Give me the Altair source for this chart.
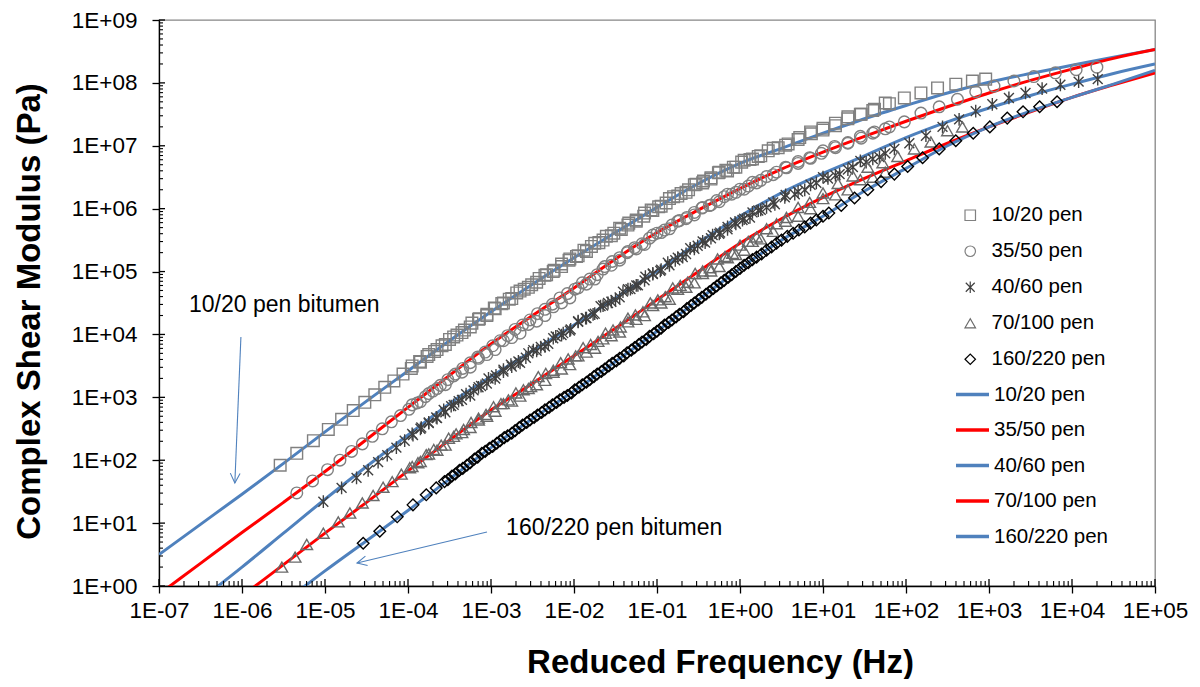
import altair as alt
import pandas as pd

FONT = "Liberation Sans"
SERIES = ["10/20 pen", "35/50 pen", "40/60 pen", "70/100 pen", "160/220 pen"]

# ---- fitted master curves: log10 reduced frequency (Hz) vs log10 |G*| (Pa)
FIT_LOGF = [-7.0, -6.5, -6.0, -5.5, -5.0, -4.5, -4.0, -3.5, -3.0, -2.5, -2.0, -1.5, -1.0,
            -0.5, 0.0, 0.5, 1.0, 1.5, 2.0, 2.5, 3.0, 3.5, 4.0, 4.5, 5.0]
FIT_1020 = [0.50, 0.98, 1.46, 1.95, 2.45, 2.94, 3.42, 3.90, 4.36, 4.80, 5.22, 5.62, 6.02,
            6.40, 6.72, 6.96, 7.20, 7.43, 7.64, 7.84, 8.01, 8.15, 8.28, 8.41, 8.53]
FIT_3550 = [-0.13, 0.36, 0.85, 1.33, 1.82, 2.33, 2.84, 3.35, 3.85, 4.30, 4.74, 5.20, 5.62,
            5.98, 6.32, 6.63, 6.90, 7.15, 7.39, 7.62, 7.84, 8.04, 8.22, 8.39, 8.53]
FIT_4060 = [-0.74, -0.22, 0.30, 0.84, 1.38, 1.90, 2.40, 2.90, 3.33, 3.74, 4.15, 4.58, 5.01,
            5.46, 5.88, 6.25, 6.56, 6.84, 7.13, 7.38, 7.60, 7.80, 7.98, 8.15, 8.30]
FIT_70100 = [-1.17, -0.66, -0.16, 0.34, 0.84, 1.33, 1.83, 2.32, 2.80, 3.22, 3.66, 4.10, 4.55,
             5.00, 5.45, 5.84, 6.18, 6.48, 6.76, 7.04, 7.30, 7.54, 7.77, 7.97, 8.16]
FIT_160220 = [-1.76, -1.26, -0.76, -0.26, 0.24, 0.72, 1.20, 1.70, 2.20, 2.66, 3.10, 3.57, 4.05,
              4.55, 5.05, 5.50, 5.88, 6.28, 6.64, 7.00, 7.30, 7.55, 7.77, 7.98, 8.20]
FIT_COLORS = ["#4F81BD", "#FF0000", "#4F81BD", "#FF0000", "#4F81BD"]

# ---- measured data (log10 f, log10 G*)
SQ_LOGF = [-5.54, -5.34, -5.14, -4.96, -4.80, -4.66, -4.52, -4.40, -4.28, -4.17, -4.06, -3.96,
           -3.86, -3.77, -3.68, -3.59, -3.50, -3.41, -3.32, -3.23, -3.14, -3.05, -2.96, -2.87,
           -2.78, -2.69, -2.60, -2.51, -2.42, -2.33, -2.24, -2.15, -2.06, -1.97, -1.88, -1.79,
           -1.70, -1.61, -1.52, -1.43, -1.34, -1.25, -1.16, -1.07, -0.98, -0.89, -0.80, -0.71,
           -0.62, -0.53, -0.44, -0.35, -0.26, -0.17, -0.08, 0.02, 0.12, 0.22, 0.34, 0.46, 0.58,
           0.72, 0.86, 1.00, 1.15, 1.30, 1.46, 1.62, 1.80, 1.98, 2.18, 2.38, 2.60, 2.80, 2.96,
           -3.95, -3.85, -3.75, -3.65, -3.55, -3.45, -3.35, -3.25, -3.15, -3.05, -2.95, -2.85,
           -2.75, -2.65, -2.55, -2.45, -2.35, -2.25, -2.15, -2.05, -1.95, -1.85, -1.75, -1.65,
           -1.55, -1.45, -1.35, -1.25, -1.15, -1.05, -0.95, -0.85, -0.75, -0.65, -0.55, -0.45,
           -0.35, -0.25, -0.15, -0.05, 0.05, 0.15, 0.25, 0.40, 0.55, 0.70, 0.85, 1.00, 1.15,
           1.30, 1.45, 1.60, 1.75]
SQ_LOGG = [1.92, 2.11, 2.31, 2.49, 2.65, 2.79, 2.92, 3.04, 3.16, 3.26, 3.37, 3.46,
           3.57, 3.65, 3.73, 3.82, 3.92, 3.99, 4.07, 4.18, 4.25, 4.32, 4.42, 4.49,
           4.56, 4.66, 4.72, 4.79, 4.89, 4.95, 5.02, 5.12, 5.18, 5.24, 5.34, 5.40,
           5.46, 5.56, 5.61, 5.67, 5.77, 5.82, 5.88, 5.98, 6.03, 6.09, 6.19, 6.24,
           6.30, 6.39, 6.44, 6.49, 6.57, 6.61, 6.66, 6.74, 6.78, 6.83, 6.92, 6.97, 7.03,
           7.13, 7.19, 7.28, 7.36, 7.43, 7.50, 7.58, 7.67, 7.76, 7.84, 7.92, 7.98, 8.03, 8.06,
           3.50, 3.56, 3.68, 3.76, 3.84, 3.96, 4.03, 4.12, 4.24, 4.30, 4.41, 4.50,
           4.57, 4.69, 4.75, 4.83, 4.94, 5.00, 5.08, 5.20, 5.25, 5.32, 5.45, 5.50,
           5.57, 5.69, 5.74, 5.80, 5.93, 5.97, 6.04, 6.16, 6.20, 6.26, 6.38, 6.41,
           6.47, 6.58, 6.60, 6.66, 6.77, 6.79, 6.84, 6.96, 7.01, 7.10, 7.22, 7.25, 7.32,
           7.46, 7.50, 7.56, 7.68]

CI_LOGF = [-5.34, -5.15, -4.97, -4.82, -4.68, -4.55, -4.43, -4.31, -4.20, -4.09, -3.99, -3.89,
           -3.79, -3.70, -3.61, -3.52, -3.43, -3.34, -3.25, -3.16, -3.07, -2.98, -2.89, -2.80,
           -2.71, -2.62, -2.53, -2.44, -2.35, -2.26, -2.17, -2.08, -1.99, -1.90, -1.81, -1.72,
           -1.63, -1.54, -1.45, -1.36, -1.27, -1.18, -1.09, -1.00, -0.91, -0.82, -0.73, -0.64,
           -0.55, -0.46, -0.37, -0.28, -0.19, -0.10, 0.00, 0.10, 0.20, 0.32, 0.44, 0.56, 0.70,
           0.84, 0.98, 1.14, 1.30, 1.46, 1.62, 1.80, 1.98, 2.18, 2.40, 2.62, 2.84, 3.06, 3.30,
           3.54, 3.80, 4.05, 4.30,
           -3.95, -3.85, -3.75, -3.65, -3.55, -3.45, -3.35, -3.25, -3.15, -3.05, -2.95, -2.85,
           -2.75, -2.65, -2.55, -2.45, -2.35, -2.25, -2.15, -2.05, -1.95, -1.85, -1.75, -1.65,
           -1.55, -1.45, -1.35, -1.25, -1.15, -1.05, -0.95, -0.85, -0.75, -0.65, -0.55, -0.45,
           -0.35, -0.25, -0.15, -0.05, 0.05, 0.15, 0.25, 0.40, 0.55, 0.70, 0.85, 1.00, 1.15,
           1.30, 1.45, 1.60, 1.75]
CI_LOGG = [1.48, 1.67, 1.85, 2.00, 2.14, 2.26, 2.38, 2.50, 2.61, 2.71, 2.81, 2.91,
           3.01, 3.10, 3.19, 3.28, 3.37, 3.46, 3.55, 3.64, 3.72, 3.82, 3.90, 3.98,
           4.08, 4.15, 4.23, 4.33, 4.40, 4.48, 4.58, 4.65, 4.72, 4.82, 4.88, 4.95,
           5.08, 5.16, 5.22, 5.30, 5.38, 5.44, 5.53, 5.61, 5.66, 5.74, 5.81, 5.86,
           5.94, 6.01, 6.05, 6.13, 6.19, 6.23, 6.31, 6.36, 6.41, 6.51, 6.58, 6.65, 6.75,
           6.81, 6.88, 6.99, 7.05, 7.12, 7.22, 7.30, 7.38, 7.52, 7.62, 7.74, 7.86, 7.95, 8.03,
           8.10, 8.16, 8.21, 8.25,
           2.88, 2.93, 3.06, 3.14, 3.20, 3.34, 3.40, 3.48, 3.62, 3.68, 3.76, 3.90,
           3.95, 4.02, 4.16, 4.21, 4.30, 4.44, 4.50, 4.58, 4.74, 4.80, 4.88, 5.04,
           5.10, 5.18, 5.32, 5.36, 5.43, 5.58, 5.62, 5.68, 5.80, 5.84, 5.90, 6.02,
           6.06, 6.11, 6.23, 6.26, 6.31, 6.42, 6.45, 6.54, 6.66, 6.72, 6.80, 6.92, 6.97,
           7.04, 7.15, 7.20, 7.27]

AS_LOGF = [-5.02, -4.80, -4.62, -4.48, -4.36, -4.25, -4.14, -4.04, -3.94, -3.84, -3.75, -3.66,
           -3.57, -3.48, -3.39, -3.30, -3.21, -3.12, -3.03, -2.94, -2.85, -2.76, -2.67, -2.58,
           -2.49, -2.40, -2.31, -2.22, -2.13, -2.04, -1.95, -1.86, -1.77, -1.68, -1.59, -1.50,
           -1.41, -1.32, -1.23, -1.14, -1.05, -0.96, -0.87, -0.78, -0.69, -0.60, -0.51, -0.42,
           -0.33, -0.24, -0.15, -0.06, 0.03, 0.12, 0.22, 0.32, 0.42, 0.54, 0.66, 0.78, 0.92,
           1.06, 1.20, 1.36, 1.52, 1.68, 1.86, 2.04, 2.24, 2.44, 2.64, 2.84, 3.04, 3.24, 3.44,
           3.64, 3.86, 4.08, 4.31,
           -3.95, -3.85, -3.75, -3.65, -3.55, -3.45, -3.35, -3.25, -3.15, -3.05, -2.95, -2.85,
           -2.75, -2.65, -2.55, -2.45, -2.35, -2.25, -2.15, -2.05, -1.95, -1.85, -1.75, -1.65,
           -1.55, -1.45, -1.35, -1.25, -1.15, -1.05, -0.95, -0.85, -0.75, -0.65, -0.55, -0.45,
           -0.35, -0.25, -0.15, -0.05, 0.05, 0.15, 0.25, 0.40, 0.55, 0.70, 0.85, 1.00, 1.15,
           1.30, 1.45, 1.60, 1.75]
AS_LOGG = [1.34, 1.56, 1.72, 1.84, 1.97, 2.08, 2.20, 2.31, 2.40, 2.52, 2.59, 2.68,
           2.80, 2.86, 2.94, 3.05, 3.11, 3.18, 3.30, 3.35, 3.41, 3.52, 3.57, 3.63,
           3.75, 3.80, 3.85, 3.97, 4.02, 4.08, 4.21, 4.26, 4.32, 4.45, 4.50, 4.55,
           4.68, 4.72, 4.78, 4.92, 4.96, 5.01, 5.14, 5.18, 5.23, 5.37, 5.41, 5.46,
           5.58, 5.62, 5.67, 5.78, 5.82, 5.86, 5.97, 6.02, 6.07, 6.18, 6.23, 6.30, 6.41,
           6.48, 6.55, 6.66, 6.74, 6.82, 6.95, 7.04, 7.16, 7.30, 7.42, 7.55, 7.66, 7.76, 7.84,
           7.91, 7.97, 8.02, 8.06,
           2.42, 2.50, 2.60, 2.67, 2.76, 2.88, 2.96, 3.03, 3.16, 3.22, 3.30, 3.44,
           3.49, 3.55, 3.70, 3.74, 3.81, 3.94, 3.99, 4.06, 4.20, 4.26, 4.33, 4.46,
           4.52, 4.59, 4.72, 4.78, 4.86, 4.97, 5.03, 5.10, 5.22, 5.28, 5.36, 5.48,
           5.53, 5.60, 5.71, 5.76, 5.84, 5.94, 5.98, 6.10, 6.22, 6.27, 6.38, 6.50, 6.53,
           6.62, 6.76, 6.79, 6.88]

TR_LOGF = [-5.52, -5.36, -5.22, -5.02, -4.84, -4.70, -4.55, -4.42, -4.30, -4.19, -4.08, -3.98,
           -3.88, -3.78, -3.69, -3.60, -3.51, -3.42, -3.33, -3.24, -3.15, -3.06, -2.97, -2.88,
           -2.79, -2.70, -2.61, -2.52, -2.43, -2.34, -2.25, -2.16, -2.07, -1.98, -1.89, -1.80,
           -1.71, -1.62, -1.53, -1.44, -1.35, -1.26, -1.17, -1.08, -0.99, -0.90, -0.81, -0.72,
           -0.63, -0.54, -0.45, -0.36, -0.27, -0.18, -0.09, 0.00, 0.10, 0.20, 0.32, 0.44, 0.56,
           0.70, 0.84, 1.00, 1.18, 1.36, 1.54, 1.72, 1.90, 2.10, 2.30, 2.50, 2.68,
           -3.95, -3.85, -3.75, -3.65, -3.55, -3.45, -3.35, -3.25, -3.15, -3.05, -2.95, -2.85,
           -2.75, -2.65, -2.55, -2.45, -2.35, -2.25, -2.15, -2.05, -1.95, -1.85, -1.75, -1.65,
           -1.55, -1.45, -1.35, -1.25, -1.15, -1.05, -0.95, -0.85, -0.75, -0.65, -0.55, -0.45,
           -0.35, -0.25, -0.15, -0.05, 0.05, 0.15, 0.25, 0.40, 0.55, 0.70, 0.85, 1.00, 1.15,
           1.30, 1.45, 1.60, 1.75]
TR_LOGG = [0.30, 0.46, 0.66, 0.84, 1.02, 1.16, 1.32, 1.44, 1.57, 1.66, 1.78, 1.88,
           1.96, 2.09, 2.17, 2.24, 2.35, 2.42, 2.49, 2.60, 2.67, 2.73, 2.85, 2.90,
           2.96, 3.07, 3.12, 3.17, 3.33, 3.38, 3.43, 3.55, 3.61, 3.66, 3.79, 3.84,
           3.89, 4.02, 4.07, 4.12, 4.26, 4.31, 4.36, 4.50, 4.55, 4.60, 4.74, 4.78,
           4.83, 4.97, 5.01, 5.06, 5.20, 5.24, 5.29, 5.42, 5.48, 5.55, 5.68, 5.76, 5.86,
           6.02, 6.10, 6.25, 6.40, 6.52, 6.66, 6.73, 6.83, 6.95, 7.06, 7.24, 7.30,
           1.90, 1.98, 2.10, 2.16, 2.24, 2.38, 2.44, 2.52, 2.64, 2.70, 2.78, 2.90,
           2.94, 3.02, 3.14, 3.20, 3.27, 3.40, 3.45, 3.52, 3.66, 3.72, 3.78, 3.93,
           3.98, 4.04, 4.20, 4.24, 4.30, 4.46, 4.50, 4.56, 4.72, 4.75, 4.82, 4.97,
           5.01, 5.08, 5.22, 5.27, 5.34, 5.48, 5.52, 5.64, 5.80, 5.88, 6.00, 6.16, 6.22,
           6.30, 6.46, 6.50, 6.58]

DI_LOGF = [-4.54, -4.34, -4.13, -3.94, -3.78, -3.66, -3.56, -3.47, -3.38, -3.29, -3.20, -3.11,
           -3.02, -2.93, -2.84, -2.75, -2.66, -2.57, -2.48, -2.39, -2.30, -2.21, -2.12, -2.03,
           -1.94, -1.85, -1.76, -1.67, -1.58, -1.49, -1.40, -1.31, -1.22, -1.13, -1.04, -0.95,
           -0.86, -0.77, -0.68, -0.59, -0.50, -0.41, -0.32, -0.23, -0.14, -0.05, 0.05, 0.15,
           0.26, 0.38, 0.50, 0.64, 0.78, 0.92, 1.07, 1.22, 1.38, 1.54, 1.70, 1.86, 2.02, 2.20,
           2.40, 2.60, 2.81, 3.01, 3.22, 3.41, 3.61, 3.82,
           -3.52, -3.43, -3.34, -3.25, -3.16, -3.07, -2.98, -2.89, -2.80, -2.71, -2.62, -2.53,
           -2.44, -2.35, -2.26, -2.17, -2.08, -1.99, -1.90, -1.81, -1.72, -1.63, -1.54, -1.45,
           -1.36, -1.27, -1.18, -1.09, -1.00, -0.91, -0.82, -0.73, -0.64, -0.55, -0.46, -0.37,
           -0.28, -0.19, -0.10, 0.00, 0.10, 0.20, 0.32, 0.44, 0.57, 0.71, 0.85, 1.00]
DI_LOGG = [0.68, 0.87, 1.10, 1.29, 1.45, 1.56, 1.66, 1.75, 1.84, 1.92, 2.02, 2.11,
           2.19, 2.27, 2.36, 2.43, 2.52, 2.60, 2.68, 2.76, 2.84, 2.92, 3.00, 3.07,
           3.16, 3.24, 3.33, 3.41, 3.50, 3.58, 3.66, 3.75, 3.84, 3.92, 4.01, 4.10,
           4.19, 4.28, 4.36, 4.46, 4.55, 4.64, 4.73, 4.82, 4.91, 5.00, 5.10, 5.19,
           5.28, 5.39, 5.50, 5.61, 5.71, 5.82, 5.93, 6.05, 6.17, 6.30, 6.43, 6.55, 6.67, 6.81,
           6.95, 7.08, 7.20, 7.30, 7.44, 7.54, 7.62, 7.70,
           1.69, 1.78, 1.87, 1.96, 2.05, 2.14, 2.22, 2.31, 2.39, 2.47, 2.56, 2.64,
           2.72, 2.80, 2.88, 2.96, 3.03, 3.12, 3.20, 3.28, 3.37, 3.45, 3.54, 3.62,
           3.71, 3.79, 3.88, 3.97, 4.05, 4.15, 4.23, 4.32, 4.41, 4.50, 4.59, 4.68,
           4.77, 4.86, 4.95, 5.05, 5.14, 5.23, 5.34, 5.45, 5.56, 5.66, 5.77, 5.88]

MARKER_SHAPES = ["square", "circle",
                 "M-0.85,-0.85L0.85,0.85M0.85,-0.85L-0.85,0.85M0,-1.1L0,1.1",
                 "triangle-up", "diamond"]
MARKER_COLORS = ["#808080", "#808080", "#404040", "#6A6A6A", "#000000"]

# ---- build tables
fit_sets = [FIT_1020, FIT_3550, FIT_4060, FIT_70100, FIT_160220]
fit_rows = []
for name, ys in zip(SERIES, fit_sets):
    for lf, lg in zip(FIT_LOGF, ys):
        fit_rows.append({"f": 10 ** lf, "G": 10 ** lg, "Fit": name})
fit_df = pd.DataFrame(fit_rows)

mk_sets = [(SQ_LOGF, SQ_LOGG), (CI_LOGF, CI_LOGG), (AS_LOGF, AS_LOGG),
           (TR_LOGF, TR_LOGG), (DI_LOGF, DI_LOGG)]
mk_rows = []
for name, (xs, ys) in zip(SERIES, mk_sets):
    for lf, lg in zip(xs, ys):
        mk_rows.append({"f": 10 ** lf, "G": 10 ** lg, "Binder": name})
mk_df = pd.DataFrame(mk_rows)

# axis decorations
MAJOR_X = [10.0 ** e for e in range(-7, 6)]
MAJOR_Y = [10.0 ** e for e in range(0, 10)]
MINOR_X = [m * 10.0 ** e for e in range(-7, 5) for m in range(2, 10)]
MINOR_Y = [m * 10.0 ** e for e in range(0, 9) for m in range(2, 10)]

W, H = 996, 566
xscale = alt.Scale(type="log", domain=[1e-7, 1e5], nice=False)
yscale = alt.Scale(type="log", domain=[1, 1e9], nice=False)

EXP = "round(log(datum.value)/LN10)"
label_expr = ("'1E' + (" + EXP + " < 0 ? '-' : '+') + (abs(" + EXP + ") < 10 ? '0' : '') + abs(" + EXP + ")")

x_axis = alt.Axis(values=MAJOR_X, labelExpr=label_expr, grid=False, tickSize=7, tickWidth=1.3,
                  tickColor="black", domainColor="black", domainWidth=1.3, labelFont=FONT,
                  labelFontSize=22.5, labelColor="black", labelPadding=6, labelFlush=False,
                  labelOverlap=False, title="Reduced Frequency (Hz)", titleFont=FONT,
                  titleFontSize=33, titleFontWeight="bold", titleColor="black",
                  titleX=561, titleY=86, titleAlign="center", titleBaseline="alphabetic")
y_axis = alt.Axis(values=MAJOR_Y, labelExpr=label_expr, grid=False, tickSize=7, tickWidth=1.3,
                  tickColor="black", domainColor="black", domainWidth=1.3, labelFont=FONT,
                  labelFontSize=22.5, labelColor="black", labelPadding=15, labelFlush=False,
                  labelOverlap=False, title="Complex Shear Modulus (Pa)", titleFont=FONT,
                  titleFontSize=33, titleFontWeight="bold", titleColor="black",
                  titleX=-120, titleY=291, titleAngle=270, titleAlign="center",
                  titleBaseline="alphabetic")

lines = alt.Chart(fit_df).mark_line(strokeWidth=3, clip=True, interpolate="monotone").encode(
    x=alt.X("f:Q", scale=xscale, axis=x_axis),
    y=alt.Y("G:Q", scale=yscale, axis=y_axis),
    color=alt.Color("Fit:N", scale=alt.Scale(domain=SERIES, range=FIT_COLORS),
                    legend=alt.Legend(title=None, orient="none", legendX=795, legendY=356,
                                      symbolType="stroke", symbolSize=1089,
                                      symbolStrokeWidth=3.5, labelFont=FONT,
                                      labelFontSize=20.5, labelColor="black", labelOffset=3,
                                      rowPadding=6.5, padding=0)),
    detail="Fit:N",
)

mk_legend = alt.Legend(title=None, orient="none", legendX=801, legendY=185, symbolSize=110,
                       symbolStrokeWidth=1.2, labelFont=FONT, labelFontSize=20.5,
                       labelColor="black", labelOffset=11, rowPadding=15, padding=0)
markers = alt.Chart(mk_df).mark_point(filled=False, size=135, strokeWidth=1.4, opacity=1,
                                      clip=True).encode(
    x=alt.X("f:Q", scale=xscale),
    y=alt.Y("G:Q", scale=yscale),
    stroke=alt.Stroke("Binder:N", scale=alt.Scale(domain=SERIES, range=MARKER_COLORS),
                      legend=mk_legend),
    shape=alt.Shape("Binder:N", scale=alt.Scale(domain=SERIES, range=MARKER_SHAPES),
                    legend=mk_legend),
)

# inside tick marks (major and minor)
tx_major = alt.Chart(pd.DataFrame({"v": MAJOR_X})).mark_rule(color="black", strokeWidth=1.3).encode(
    x=alt.X("v:Q", scale=xscale), y=alt.value(H), y2=alt.value(H - 7))
tx_minor = alt.Chart(pd.DataFrame({"v": MINOR_X})).mark_rule(color="black", strokeWidth=1.1).encode(
    x=alt.X("v:Q", scale=xscale), y=alt.value(H), y2=alt.value(H - 5))
ty_major = alt.Chart(pd.DataFrame({"v": MAJOR_Y})).mark_rule(color="black", strokeWidth=1.3).encode(
    y=alt.Y("v:Q", scale=yscale), x=alt.value(0), x2=alt.value(6))
ty_minor = alt.Chart(pd.DataFrame({"v": MINOR_Y})).mark_rule(color="black", strokeWidth=1.1).encode(
    y=alt.Y("v:Q", scale=yscale), x=alt.value(0), x2=alt.value(4))

# annotations
ANN_TEXT = ["10/20 pen bitumen", "160/220 pen bitumen"]
ANN_F = [2.3e-7, 1.52e-3]
ANN_G = [2.27e4, 6.47]
ann = alt.Chart(pd.DataFrame({"f": ANN_F, "G": ANN_G, "t": ANN_TEXT})).mark_text(
    align="left", baseline="alphabetic", font=FONT, fontSize=23, color="black").encode(
    x=alt.X("f:Q", scale=xscale), y=alt.Y("G:Q", scale=yscale), text="t:N")

ARROW_F1 = [9.7e-7, 8.95e-4]
ARROW_G1 = [9100.0, 7.2]
ARROW_F2 = [8.2e-7, 2.43e-5]
ARROW_G2 = [43.4, 2.32]
arrows = alt.Chart(pd.DataFrame({"f1": ARROW_F1, "g1": ARROW_G1, "f2": ARROW_F2, "g2": ARROW_G2})
                   ).mark_rule(color="#4F81BD", strokeWidth=1.1).encode(
    x=alt.X("f1:Q", scale=xscale), y=alt.Y("g1:Q", scale=yscale), x2="f2:Q", y2="g2:Q")
HEAD_PATH = "M-0.5,-1L0,0L0.5,-1"
head1 = alt.Chart(pd.DataFrame({"f": [ARROW_F2[0]], "G": [ARROW_G2[0]]})).mark_point(
    shape=HEAD_PATH, filled=False, size=380, strokeWidth=1.1, color="#4F81BD", opacity=1,
    angle=2).encode(x=alt.X("f:Q", scale=xscale), y=alt.Y("G:Q", scale=yscale))
head2 = alt.Chart(pd.DataFrame({"f": [ARROW_F2[1]], "G": [ARROW_G2[1]]})).mark_point(
    shape=HEAD_PATH, filled=False, size=380, strokeWidth=1.1, color="#4F81BD", opacity=1,
    angle=77).encode(x=alt.X("f:Q", scale=xscale), y=alt.Y("G:Q", scale=yscale))

chart = alt.layer(lines, markers, tx_major, tx_minor, ty_major, ty_minor, ann, arrows,
                  head1, head2).resolve_scale(color="independent", stroke="independent",
                                              shape="independent").properties(
    width=W, height=H, autosize=alt.AutoSizeParams(type="none"),
    padding={"left": 151, "top": 12, "right": 35, "bottom": 93},
).configure_view(stroke="#868686", strokeWidth=1.3)

chart.save("out.html", embed_options={"renderer": "svg", "actions": False})
